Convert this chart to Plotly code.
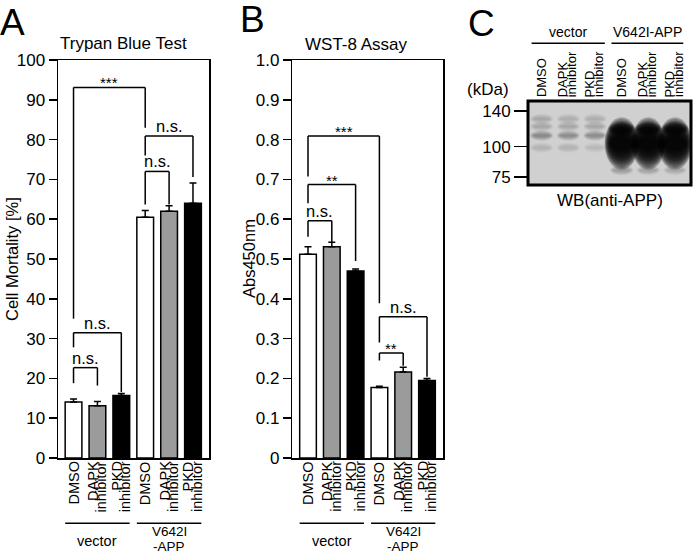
import numpy as np
import plotly.graph_objects as go

W, H = 700, 553
FONT = "Liberation Sans, Arial, Helvetica, sans-serif"

# ---------------- data ----------------
conditions = ["DMSO", "DAPK inhibitor", "PKD inhibitor",
              "DMSO", "DAPK inhibitor", "PKD inhibitor"]
groups = ["vector", "V642I\n-APP"]

mortality = [14.1, 13.1, 15.7, 60.5, 62.0, 64.0]
mortality_err = [0.7, 1.1, 0.5, 1.7, 1.4, 5.1]

abs450 = [0.512, 0.531, 0.470, 0.177, 0.216, 0.195]
abs450_err = [0.019, 0.011, 0.005, 0.003, 0.012, 0.005]

bar_fill = ["white", "#9b9b9b", "black", "white", "#9b9b9b", "black"]

ticks_A = list(range(0, 101, 10))
ticks_B = [round(0.1 * i, 1) for i in range(11)]

# significance brackets: (bar i, bar j, top, left leg end, right leg end, label)
sig_A = [(0, 3, 93.1, 35.0, 83.0, "***"),
         (3, 5, 80.9, 76.0, 70.6, "n.s."),
         (3, 4, 72.0, 63.7, 63.7, "n.s."),
         (0, 2, 31.5, 27.8, 16.6, "n.s."),
         (0, 1, 22.7, 18.8, 18.2, "n.s.")]
sig_B = [(0, 3, 0.809, 0.707, 0.389, "***"),
         (0, 2, 0.687, 0.640, 0.495, "**"),
         (0, 1, 0.596, 0.556, 0.542, "n.s."),
         (3, 5, 0.355, 0.290, 0.204, "n.s."),
         (3, 4, 0.264, 0.245, 0.232, "**")]

# western blot (anti-APP)
marker_kda = [140, 100, 75]
blot_groups = ["vector", "V642I-APP"]
band_lane = [0, 1, 2, 0, 1, 2, 0, 1, 2, 0, 1, 2, 3, 4, 5, 3, 4, 5, 3, 4, 5]
band_kda = [130, 130, 130, 121, 121, 121, 111, 111, 111, 99, 99, 99,
            103, 103, 103, 80, 80, 80, 118, 118, 118]
band_strength = [0.2, 0.18, 0.18, 0.22, 0.2, 0.2, 0.42, 0.4, 0.4, 0.14, 0.14, 0.12,
                 1.0, 1.0, 1.0, 0.3, 0.25, 0.2, 0.5, 0.5, 0.5]


# ---------------- helpers ----------------
def px(p):
    return p / W


def py(p):
    return 1 - p / H


fig = go.Figure()
cats = list(range(len(conditions)))

for vals, errs, xa, ya in [(mortality, mortality_err, "x", "y"),
                           (abs450, abs450_err, "x2", "y2")]:
    fig.add_trace(go.Bar(
        x=cats, y=vals, width=0.7, xaxis=xa, yaxis=ya,
        marker=dict(color=bar_fill, line=dict(color="black", width=1.5)),
        error_y=dict(type="data", symmetric=False, array=errs,
                     arrayminus=[0] * len(errs), color="black",
                     thickness=1.5, width=3.5),
        showlegend=False, hoverinfo="skip"))

# invisible anchor trace for blot subplot
fig.add_trace(go.Scatter(x=list(range(6)), y=[np.log10(100)] * 6, xaxis="x3", yaxis="y3",
                         mode="markers", marker=dict(opacity=0), showlegend=False,
                         hoverinfo="skip"))

axis_common = dict(showline=True, linecolor="black", linewidth=1.5, mirror=True,
                   showgrid=False, zeroline=False, automargin=False)
ydomain = [py(458), py(60)]

fig.update_layout(
    width=W, height=H, autosize=False,
    margin=dict(l=0, r=0, t=0, b=0, pad=0, autoexpand=False),
    paper_bgcolor="white", plot_bgcolor="white",
    font=dict(family=FONT, color="black", size=17),
    showlegend=False,
    bargap=0,
    xaxis=dict(domain=[px(58), px(209)], range=[-0.65, 5.67], anchor="y",
               showticklabels=False, ticks="", **axis_common),
    yaxis=dict(domain=ydomain, range=[0, 100], anchor="x", tickvals=ticks_A,
               ticks="outside", ticklen=8, tickwidth=1.5, tickcolor="black",
               tickfont=dict(size=17), **axis_common),
    xaxis2=dict(domain=[px(292.3), px(443.3)], range=[-0.66, 5.685], anchor="y2",
                showticklabels=False, ticks="", **axis_common),
    yaxis2=dict(domain=ydomain, range=[0, 1.0], anchor="x2", tickvals=ticks_B,
                ticktext=["0" if v == 0 else f"{v:.1f}" for v in ticks_B],
                ticks="outside", ticklen=8, tickwidth=1.5, tickcolor="black",
                tickfont=dict(size=17), **axis_common),
    xaxis3=dict(domain=[px(528), px(691)], range=[-0.51, 5.6], anchor="y3",
                showticklabels=False, ticks="", showline=False, showgrid=False,
                zeroline=False, automargin=False),
    yaxis3=dict(domain=[py(185), py(101)],
                range=[np.log10(69.5), np.log10(154)], anchor="x3",
                tickvals=list(np.log10(marker_kda)), ticktext=[str(m) for m in marker_kda],
                ticks="outside", ticklen=13, tickwidth=1.5, tickcolor="black",
                tickfont=dict(size=17), showline=False, showgrid=False, zeroline=False,
                automargin=False),
)

shapes = []
ann = []

# brackets
for sig, xa, ya in [(sig_A, "x", "y"), (sig_B, "x2", "y2")]:
    for i, j, top, lb, rb, lab in sig:
        ln = dict(color="black", width=1.5)
        shapes.append(dict(type="line", xref=xa, yref=ya, x0=i, x1=j, y0=top, y1=top, line=ln))
        shapes.append(dict(type="line", xref=xa, yref=ya, x0=i, x1=i, y0=top, y1=lb, line=ln))
        shapes.append(dict(type="line", xref=xa, yref=ya, x0=j, x1=j, y0=top, y1=rb, line=ln))
        star = lab.startswith("*")
        ann.append(dict(x=(i + j) / 2, y=top, xref=xa, yref=ya, text=lab, showarrow=False,
                        xanchor="center", yanchor="bottom",
                        yshift=-6 if star else -1,
                        font=dict(size=15 if star else 16.5)))

# category labels and group labels under bar charts
for xa in ["x", "x2"]:
    for k, name in enumerate(conditions):
        parts = name.split(" ")
        shifts = [0] if len(parts) == 1 else [-4.5, 3.5]
        for part, sh in zip(parts, shifts):
            ann.append(dict(x=k, y=py(459), xref=xa, yref="paper", text=part,
                            textangle=-90, showarrow=False, xanchor="center",
                            yanchor="top", xshift=sh, font=dict(size=14.5)))
    for g, gname in enumerate(groups):
        c = 3 * g + 1
        shapes.append(dict(type="line", xref=xa, yref="paper", x0=c - 1.35, x1=c + 1.35,
                           y0=py(523.3), y1=py(523.3), line=dict(color="black", width=1.5)))
        lines = gname.split("\n")
        if len(lines) == 1:
            ann.append(dict(x=c, y=py(541), xref=xa, yref="paper", text=lines[0],
                            showarrow=False, yanchor="middle", font=dict(size=14.5)))
        else:
            for ln_txt, yy in zip(lines, [531.5, 546.5]):
                ann.append(dict(x=c, y=py(yy), xref=xa, yref="paper", text=ln_txt,
                                showarrow=False, yanchor="middle", font=dict(size=13.5)))

# titles, axis titles, panel letters
ann += [
    dict(x=px(123), y=py(43), xref="paper", yref="paper", text="Trypan Blue Test",
         showarrow=False, xanchor="center", yanchor="middle", font=dict(size=17)),
    dict(x=px(356.7), y=py(45), xref="paper", yref="paper", text="WST-8 Assay",
         showarrow=False, xanchor="center", yanchor="middle", font=dict(size=17)),
    dict(x=px(12), y=py(259), xref="paper", yref="paper", text="Cell Mortality [%]",
         textangle=-90, showarrow=False, xanchor="center", yanchor="middle",
         font=dict(size=16.5)),
    dict(x=px(249), y=py(259), xref="paper", yref="paper", text="Abs450nm",
         textangle=-90, showarrow=False, xanchor="center", yanchor="middle",
         font=dict(size=16.5)),
    dict(x=px(-2), y=py(0), xref="paper", yref="paper", text="A", showarrow=False,
         xanchor="left", yanchor="top", font=dict(size=37)),
    dict(x=px(238), y=py(-3), xref="paper", yref="paper", text="B", showarrow=False,
         xanchor="left", yanchor="top", font=dict(size=37)),
    dict(x=px(466), y=py(1), xref="paper", yref="paper", text="C", showarrow=False,
         xanchor="left", yanchor="top", font=dict(size=37)),
]

# ---------------- western blot ----------------
shapes.append(dict(type="rect", xref="x3 domain", yref="y3 domain", x0=0, x1=1, y0=0, y1=1,
                   fillcolor="#d0d0d0", line=dict(width=0), layer="below"))
for lane, kda, s in zip(band_lane, band_kda, band_strength):
    yc = np.log10(kda)
    if s >= 0.9:
        hw, hh, n, op, base = 0.64, 0.108, 12, 0.25, 0.5
    elif s >= 0.45 and lane >= 3:
        hw, hh, n, op, base = 0.5, 0.03, 6, 0.2, 0.6
    else:
        hw, hh, n, op, base = 0.44, 0.022, 8, s * 0.11, 0.6
    for m in range(n):
        sc = 1.0 - (1.0 - 0.25) * m / max(n - 1, 1)
        shapes.append(dict(type="circle", xref="x3", yref="y3",
                           x0=lane - hw * (base + (1 - base) * sc),
                           x1=lane + hw * (base + (1 - base) * sc),
                           y0=yc - hh * sc, y1=yc + hh * sc,
                           fillcolor="black", opacity=op, line=dict(width=0)))
shapes.append(dict(type="rect", xref="x3 domain", yref="y3 domain", x0=0, x1=1, y0=0, y1=1,
                   line=dict(color="black", width=3), fillcolor="rgba(0,0,0,0)"))

blot_top = py(99)
for k, name in enumerate(conditions):
    parts = name.split(" ")
    shifts = [0] if len(parts) == 1 else [-5, 4]
    for part, sh in zip(parts, shifts):
        ann.append(dict(x=k, y=blot_top, xref="x3", yref="paper", text=part,
                        textangle=-90, showarrow=False, xanchor="center",
                        yanchor="bottom", xshift=sh, font=dict(size=13)))
for g, gname in enumerate(blot_groups):
    x0, x1 = (-0.375, 2.37) if g == 0 else (2.62, 5.31)
    shapes.append(dict(type="line", xref="x3", yref="paper", x0=x0, x1=x1,
                       y0=py(43.3), y1=py(43.3), line=dict(color="black", width=1.5)))
    ann.append(dict(x=(x0 + x1) / 2, y=py(42), xref="x3", yref="paper", text=gname,
                    showarrow=False, xanchor="center", yanchor="bottom",
                    font=dict(size=14)))
ann += [
    dict(x=px(511), y=py(90), xref="paper", yref="paper", text="(kDa)", showarrow=False,
         xanchor="right", yanchor="middle", font=dict(size=17)),
    dict(x=0.5, y=py(200), xref="x3 domain", yref="paper", text="WB(anti-APP)",
         showarrow=False, xanchor="center", yanchor="middle", font=dict(size=17)),
]

fig.update_layout(shapes=shapes, annotations=ann)
fig.write_html("out.html",
               config={"displayModeBar": False, "staticPlot": True},
               post_script="document.body.style.margin='0';document.body.style.padding='0';"
                           "document.body.style.overflow='hidden';")
